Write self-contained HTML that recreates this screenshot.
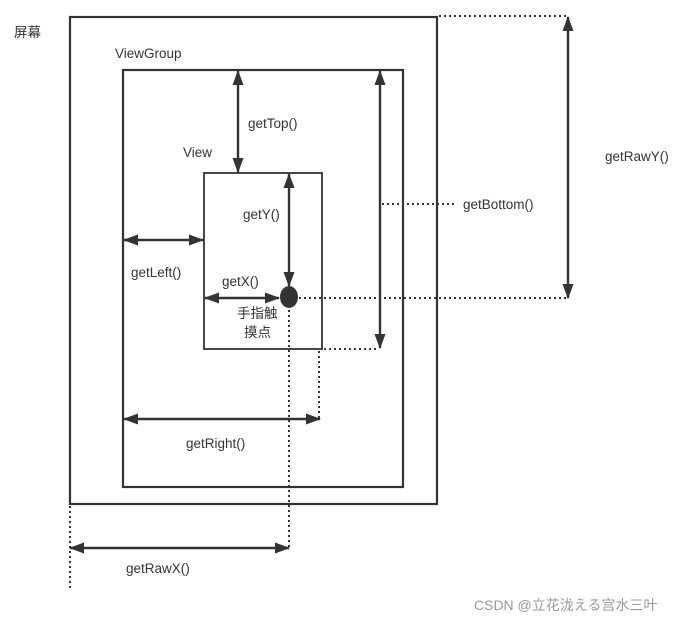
<!DOCTYPE html>
<html><head><meta charset="utf-8"><style>
html,body{margin:0;padding:0;background:#fff;}
svg{display:block;}
text{font-family:"Liberation Sans","Noto Sans CJK SC",sans-serif;font-size:13.5px;fill:#333;}
</style></head><body>
<svg width="679" height="622" viewBox="0 0 679 622" xmlns="http://www.w3.org/2000/svg">
<defs>
<marker id="a" markerWidth="15" markerHeight="12" refX="14" refY="6" orient="auto-start-reverse" markerUnits="userSpaceOnUse">
<path d="M0,0.5 L15,6 L0,11.5 Z" fill="#333"/>
</marker>
</defs>
<g fill="none" stroke="#333" stroke-width="2.2">
<rect x="70" y="17" width="367" height="487"/>
<rect x="123" y="70" width="280" height="417"/>
<rect x="204" y="173" width="118" height="176" stroke-width="1.8"/>
</g>
<g stroke="#333" stroke-width="2.4" marker-start="url(#a)" marker-end="url(#a)">
<line x1="238" y1="71" x2="238" y2="172"/>
<line x1="289" y1="174" x2="289" y2="286"/>
<line x1="124" y1="240" x2="203" y2="240"/>
<line x1="205" y1="298" x2="279" y2="298"/>
<line x1="380" y1="71" x2="380" y2="348"/>
<line x1="568" y1="17" x2="568" y2="298"/>
<line x1="124" y1="419" x2="320" y2="419"/>
<line x1="70" y1="548" x2="289" y2="548"/>
</g>
<ellipse cx="289" cy="297" rx="9" ry="11" fill="#333"/>
<g stroke="#333" stroke-width="2" stroke-dasharray="2,3" fill="none">
<line x1="439" y1="16" x2="566" y2="16"/>
<line x1="299" y1="298" x2="566" y2="298"/>
<line x1="382" y1="204" x2="455" y2="204"/>
<line x1="324" y1="349" x2="378" y2="349"/>
<line x1="319" y1="351" x2="319" y2="418"/>
<line x1="289" y1="310" x2="289" y2="547"/>
<line x1="70" y1="506" x2="70" y2="588"/>
</g>
<text x="14" y="37">屏幕</text>
<text x="115" y="58">ViewGroup</text>
<text x="248" y="128">getTop()</text>
<text x="183" y="157">View</text>
<text x="243" y="219">getY()</text>
<text x="131" y="277">getLeft()</text>
<text x="222" y="286">getX()</text>
<text x="237" y="318">手指触</text>
<text x="244" y="337">摸点</text>
<text x="463" y="209">getBottom()</text>
<text x="605" y="161">getRawY()</text>
<text x="186" y="448">getRight()</text>
<text x="126" y="573">getRawX()</text>
<text x="474" y="610" style="fill:#999;font-size:14px">CSDN @立花泷える宫水三叶</text>
</svg>
</body></html>
